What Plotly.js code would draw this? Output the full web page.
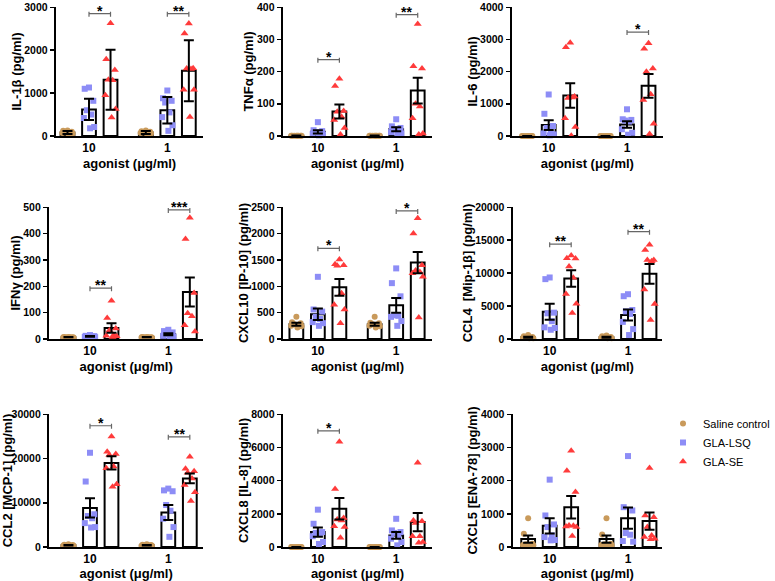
<!DOCTYPE html>
<html><head><meta charset="utf-8">
<script src="https://cdn.plot.ly/plotly-3.0.1.min.js"></script>
<style>html,body{margin:0;padding:0;background:#fff}#chart{width:775px;height:581px}</style>
</head><body><div id="chart"></div><script>
// ---------- DATA ----------
const groupNames = ['Saline control', 'GLA-LSQ', 'GLA-SE'];
const doseLabels = ['10', '1'];
const xTitle = 'agonist (μg/ml)';
// order of every mean / err / points array: [saline 10, LSQ 10, SE 10, saline 1, LSQ 1, SE 1]

const il1bTitle = 'IL-1β (pg/ml)';
const il1bAxis = [3000, 1000];
const il1bMean = [80, 620, 1310, 80, 600, 1520];
const il1bErr = [35, 250, 700, 35, 310, 710];
const il1bPts = [[130, 120, 100, 90, 80, 70, 60, 40], [1130, 1100, 820, 600, 500, 420, 210, 180], [2630, 1790, 1540, 1310, 1300, 950, 630, 430],
                 [130, 110, 100, 90, 80, 70, 60, 50], [1060, 880, 820, 780, 550, 440, 250, 120], [2620, 2390, 1580, 1570, 1560, 1080, 1080, 440]];
const il1bSig = [[0, '*', 2850], [1, '**', 2850]];

const tnfTitle = 'TNFα (pg/ml)';
const tnfAxis = [400, 100];
const tnfMean = [1, 13, 76, 1, 21, 141];
const tnfErr = [0.5, 5, 22, 0.5, 6, 40];
const tnfPts = [[1, 1, 1, 1, 1, 1, 1, 1], [43, 18, 15, 12, 10, 6, 4, 2], [178, 155, 78, 75, 60, 50, 25, 5],
                [1, 1, 1, 1, 1, 1, 1, 1], [52, 30, 25, 22, 18, 12, 8, 3], [348, 217, 210, 100, 92, 55, 8, 5]];
const tnfSig = [[0, '*', 237], [1, '**', 377]];

const il6Title = 'IL-6 (pg/ml)';
const il6Axis = [4000, 1000];
const il6Mean = [0, 340, 1260, 0, 360, 1560];
const il6Err = [0, 150, 380, 0, 100, 370];
const il6Pts = [[0, 0, 0, 0, 0, 0, 0, 0], [1290, 690, 310, 250, 110, 80, 50, 20], [2900, 2760, 1230, 1180, 1200, 550, 280, 10],
                [0, 0, 0, 0, 0, 0, 0, 0], [830, 520, 500, 480, 450, 210, 100, 40], [2880, 2710, 2100, 2000, 1300, 1120, 380, 60]];
const il6Sig = [[1, '*', 3230]];

const ifngTitle = 'IFNγ (pg/ml)';
const ifngAxis = [500, 100];
const ifngMean = [7, 10, 42, 7, 18, 178];
const ifngErr = [0.5, 1.5, 18, 0.5, 4, 55];
const ifngPts = [[8, 8, 7, 7, 7, 7, 6, 6], [15, 12, 11, 10, 9, 8, 7, 6], [145, 80, 40, 32, 15, 12, 10, 8],
                 [8, 8, 7, 7, 7, 7, 6, 6], [35, 30, 25, 20, 15, 12, 8, 6], [460, 380, 175, 98, 86, 52, 28]];
const ifngSig = [[0, '**', 193], [1, '***', 490]];

const cxcl10Title = 'CXCL10 [IP-10] (pg/ml)';
const cxcl10Axis = [2500, 500];
const cxcl10Mean = [280, 470, 980, 280, 640, 1450];
const cxcl10Err = [30, 110, 160, 30, 140, 200];
const cxcl10Pts = [[420, 320, 300, 280, 270, 250, 240, 220], [1180, 560, 520, 420, 380, 320, 300, 250], [1510, 1420, 1400, 1390, 870, 650, 560, 300],
                   [420, 310, 300, 280, 260, 250, 240, 220], [1340, 1060, 810, 450, 440, 420, 340, 250], [2290, 2000, 1400, 1300, 1270, 1250, 1180, 410]];
const cxcl10Sig = [[0, '*', 1720], [1, '*', 2430]];

const ccl4Title = 'CCL4 \u00a0[Mip-1β] (pg/ml)';
const ccl4Axis = [20000, 5000];
const ccl4Mean = [270, 4140, 9200, 270, 3640, 9900];
const ccl4Err = [80, 1200, 1250, 80, 850, 1500];
const ccl4Pts = [[600, 400, 300, 250, 200, 150, 100, 100], [9340, 9090, 4000, 3900, 2700, 1770, 1670, 1400], [12680, 12270, 12220, 11010, 9290, 6820, 5350, 3940],
                 [550, 400, 300, 250, 200, 150, 100, 100], [6800, 6500, 4400, 4200, 3800, 2600, 1500, 600], [14300, 13500, 12000, 12000, 11800, 7500, 5300, 2900]];
const ccl4Sig = [[0, '**', 14400], [1, '**', 16300]];

const ccl2Title = 'CCL2 [MCP-1] (pg/ml)';
const ccl2Axis = [30000, 10000];
const ccl2Mean = [400, 8840, 19000, 400, 7800, 15500];
const ccl2Err = [80, 2200, 1500, 80, 1700, 1100];
const ccl2Pts = [[600, 500, 450, 400, 350, 300, 300, 250], [21300, 14800, 7400, 7000, 6500, 5400, 4500, 4400], [25000, 21500, 21000, 20800, 18200, 17800, 14200, 13600],
                 [600, 500, 450, 400, 350, 300, 300, 250], [13200, 12800, 12600, 9500, 8200, 6400, 4500, 2300], [20400, 17700, 17100, 16800, 15500, 14000, 12400, 10400]];
const ccl2Sig = [[0, '*', 27400], [1, '**', 24900]];

const cxcl8Title = 'CXCL8 [IL-8] (pg/ml)';
const cxcl8Axis = [8000, 2000];
const cxcl8Mean = [0, 900, 2300, 0, 700, 1500];
const cxcl8Err = [0, 280, 650, 0, 200, 550];
const cxcl8Pts = [[0, 0, 0, 0, 0, 0, 0, 0], [2250, 1400, 900, 850, 800, 650, 300, 180], [6350, 3500, 1750, 1650, 1600, 1250, 1200, 550],
                  [0, 0, 0, 0, 0, 0, 0, 0], [1700, 1000, 900, 850, 700, 500, 300, 100], [5080, 1600, 1550, 1450, 650, 650, 300, 250]];
const cxcl8Sig = [[0, '*', 7000]];

const cxcl5Title = 'CXCL5 [ENA-78] (pg/ml)';
const cxcl5Axis = [4000, 1000];
const cxcl5Mean = [240, 640, 1200, 240, 870, 780];
const cxcl5Err = [110, 230, 340, 110, 320, 260];
const cxcl5Pts = [[870, 400, 100, 80, 70, 60, 50, 50], [2030, 950, 680, 600, 350, 300, 210, 200], [2900, 2300, 1660, 650, 640, 620, 600, 330],
                  [870, 380, 100, 80, 70, 60, 50, 50], [2740, 1200, 1100, 420, 370, 180, 160], [2380, 950, 900, 600, 350, 300, 250, 230]];
const cxcl5Sig = [];

// ---------- BUILD ----------
const panels = [
  [il1bTitle, il1bAxis, il1bMean, il1bErr, il1bPts, il1bSig],
  [tnfTitle, tnfAxis, tnfMean, tnfErr, tnfPts, tnfSig],
  [il6Title, il6Axis, il6Mean, il6Err, il6Pts, il6Sig],
  [ifngTitle, ifngAxis, ifngMean, ifngErr, ifngPts, ifngSig],
  [cxcl10Title, cxcl10Axis, cxcl10Mean, cxcl10Err, cxcl10Pts, cxcl10Sig],
  [ccl4Title, ccl4Axis, ccl4Mean, ccl4Err, ccl4Pts, ccl4Sig],
  [ccl2Title, ccl2Axis, ccl2Mean, ccl2Err, ccl2Pts, ccl2Sig],
  [cxcl8Title, cxcl8Axis, cxcl8Mean, cxcl8Err, cxcl8Pts, cxcl8Sig],
  [cxcl5Title, cxcl5Axis, cxcl5Mean, cxcl5Err, cxcl5Pts, cxcl5Sig]
];

const W = 775, H = 581;
const family = 'Arial, "Liberation Sans", sans-serif';
const colors = ['#C99A5B', '#8D8DF6', '#FF3B3B'];
const symbols = ['circle', 'square', 'triangle-up'];
const msize = [6, 6, 7];
const xpos = [1, 2, 3, 4.64, 5.64, 6.64];
const tickPos = [2, 5.64];
const spread = [0, -0.2, 0.2, -0.1, 0.1, -0.24, 0.24, 0.05, -0.05];
// pixel boxes [left, right, top, bottom, first-bar-centre]
const boxes = [
  [57, 208, 7, 136, 69], [289, 442, 7, 136, 303], [523, 678, 7, 136, 539],
  [50, 208, 207, 339, 70], [289, 442, 207, 339, 303], [524, 677, 207, 339, 540],
  [50, 208, 414, 547, 70], [289, 442, 414, 547, 303], [524, 677, 414, 547, 540]
];
const unitPx = 22;

const traces = [];
const layout = {
  width: W, height: H,
  margin: {l: 0, r: 0, t: 0, b: 0},
  paper_bgcolor: '#fff', plot_bgcolor: '#fff',
  showlegend: true,
  legend: {x: 678 / W, y: 1 - 409 / H, xanchor: 'left', yanchor: 'top', tracegroupgap: 0,
           font: {family: family, size: 11, color: '#000'}, itemwidth: 30, bgcolor: 'rgba(0,0,0,0)'},
  font: {family: family, color: '#000'},
  shapes: [], annotations: []
};

panels.forEach((p, k) => {
  const [title, axis, mean, err, pts, sig] = p;
  const n = k + 1;
  const xa = 'x' + (n === 1 ? '' : n), ya = 'y' + (n === 1 ? '' : n);
  const xk = 'xaxis' + (n === 1 ? '' : n), yk = 'yaxis' + (n === 1 ? '' : n);
  const [L, R, T, B, S] = boxes[k];

  traces.push({
    type: 'bar', x: xpos, y: mean, xaxis: xa, yaxis: ya, width: 0.64,
    marker: {color: '#fff', line: {color: '#000', width: 2}},
    showlegend: false, hoverinfo: 'skip'
  });
  for (let g = 0; g < 3; g++) {
    const xs = [], ys = [];
    for (let d = 0; d < 2; d++) {
      const idx = d * 3 + g;
      pts[idx].forEach((v, i) => { xs.push(xpos[idx] + spread[i % spread.length]); ys.push(v); });
    }
    traces.push({
      type: 'scatter', mode: 'markers', x: xs, y: ys, xaxis: xa, yaxis: ya,
      name: groupNames[g], showlegend: k === 0,
      cliponaxis: false,
      marker: {color: colors[g], symbol: symbols[g], size: msize[g], line: {width: 0}}
    });
  }
  traces.push({
    type: 'scatter', mode: 'markers', x: xpos, y: mean, xaxis: xa, yaxis: ya,
    marker: {size: 1, opacity: 0}, showlegend: false, hoverinfo: 'skip', cliponaxis: false,
    error_y: {type: 'data', array: err, visible: true, color: '#000', thickness: 2, width: 5}
  });

  const yTicks = [];
  for (let v = 0; v <= axis[0]; v += axis[1]) yTicks.push(v);

  layout[xk] = {
    domain: [L / W, R / W], anchor: ya,
    range: [1 - (S - L) / unitPx, 1 + (R - S) / unitPx],
    tickmode: 'array', tickvals: tickPos, ticktext: doseLabels, ticks: '',
    showline: true, linecolor: '#000', linewidth: 2, showgrid: false, zeroline: false,
    tickfont: {family: family, size: 12, weight: 'bold', color: '#000'},
    title: {text: xTitle, font: {family: family, size: 13, weight: 'bold', color: '#000'}, standoff: 4},
    fixedrange: true
  };
  layout[yk] = {
    domain: [1 - B / H, 1 - T / H], anchor: xa,
    range: [0, axis[0] * 1.002],
    tickmode: 'array', tickvals: yTicks, ticktext: yTicks.map(String),
    ticks: 'outside', ticklen: 4, tickwidth: 1.5, tickcolor: '#000',
    ticklabeloverflow: 'allow',
    showline: true, linecolor: '#000', linewidth: 2, showgrid: false, zeroline: false,
    tickfont: {family: family, size: 10.5, weight: 'bold', color: '#000'},
    title: {text: title, font: {family: family, size: 13, weight: 'bold', color: '#000'}, standoff: 0},
    fixedrange: true
  };

  sig.forEach(s => {
    const [d, label, yv] = s;
    const x0 = xpos[d * 3 + 1], x1 = xpos[d * 3 + 2];
    const ln = {color: '#666', width: 1.2};
    layout.shapes.push({type: 'line', xref: xa, yref: ya, x0: x0, x1: x1, y0: yv, y1: yv, line: ln});
    [x0, x1].forEach(xx => layout.shapes.push({type: 'line', xref: xa, yref: ya, x0: xx, x1: xx,
      ysizemode: 'pixel', yanchor: yv, y0: 2, y1: -3, line: ln}));
    layout.annotations.push({xref: xa, yref: ya, x: (x0 + x1) / 2, y: yv, text: label, showarrow: false,
      yanchor: 'middle', yshift: 3, font: {family: family, size: 14, weight: 'bold', color: '#000'}});
  });
});

Plotly.newPlot('chart', traces, layout, {displayModeBar: false, staticPlot: true});
</script></body></html>
